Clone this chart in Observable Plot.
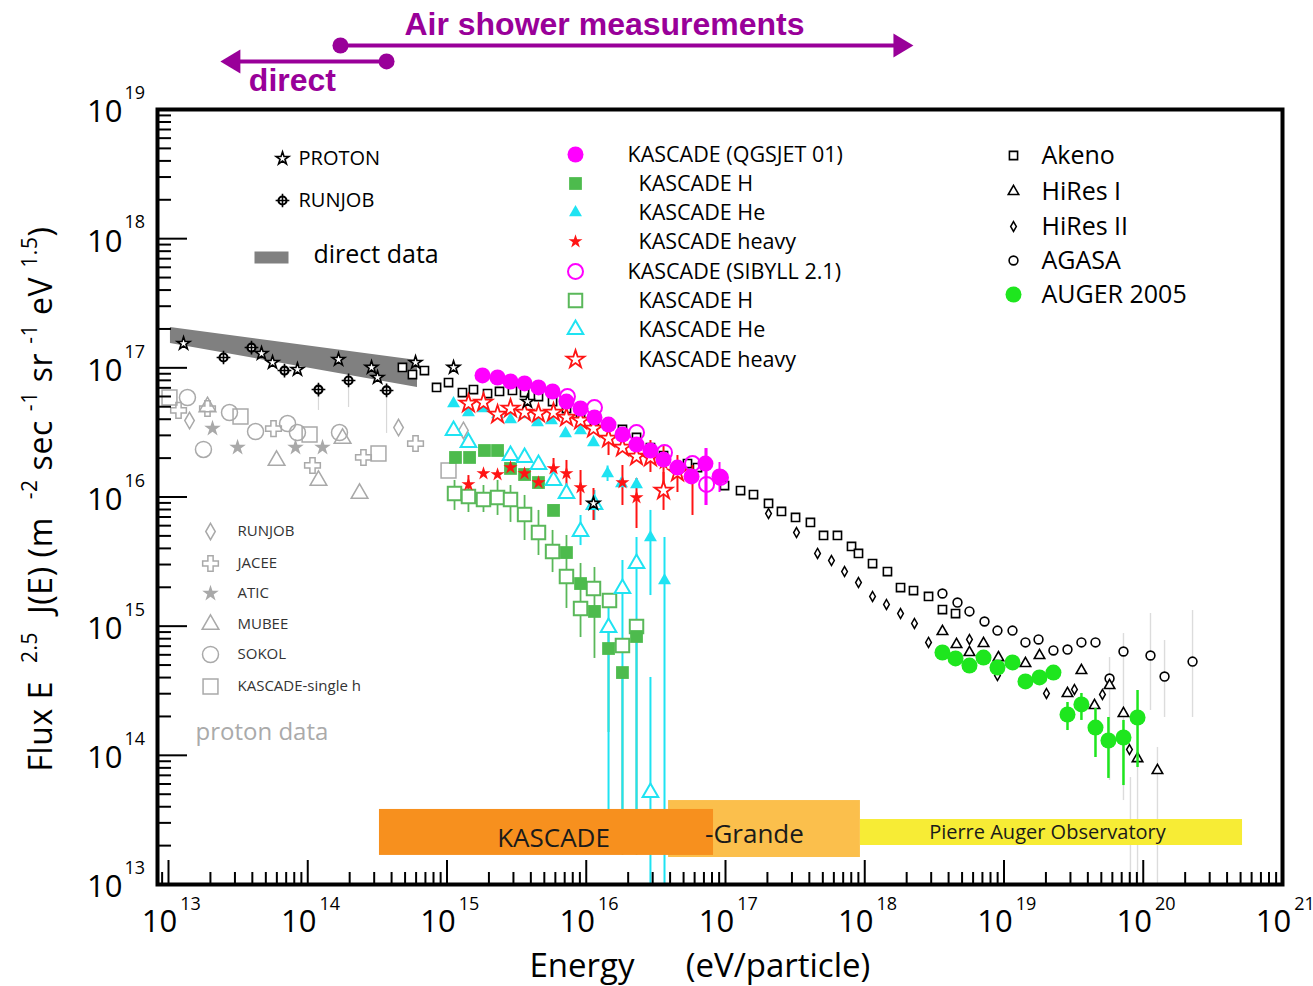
<!DOCTYPE html>
<html><head><meta charset="utf-8">
<script src="https://cdn.jsdelivr.net/npm/d3@7"></script>
<script src="https://cdn.jsdelivr.net/npm/@observablehq/plot@0.6"></script>
<style>
html,body{margin:0;padding:0;background:#fff;}
svg{display:block;}
</style></head><body>
<script>
// ---- DATA: every value is [log10(E / eV), log10(flux)] (error bars: [log10 E, log10 low, log10 high]) ----
const protonStars = [[13.108,17.188],[13.668,17.111],[13.747,17.041],[13.926,16.987],[14.221,17.064],[14.458,17.003],[14.501,16.925],[14.774,17.041],[15.047,17.003],[15.578,16.739],[16.052,15.950]];
const runjobDirect = [[13.395,17.080],[13.596,17.157],[13.833,16.979],[14.077,16.832],[14.293,16.902],[14.566,16.825]];
const runjobDirectErr = [[14.077,16.670,16.832],[14.293,16.693,16.902],[14.566,16.492,16.825]];
const directBand = [[13.014,17.188,17.312],[14.788,16.848,17.057]]; // [logE, low edge, high edge]

const akeno = [[14.680,17.003],[14.752,16.948],[14.838,16.979],[14.925,16.848],[15.011,16.886],[15.111,16.809],[15.190,16.832],[15.291,16.801],[15.377,16.817],[15.470,16.825],[15.557,16.809],[15.657,16.778],[15.758,16.739],[15.858,16.685],[15.959,16.646],[16.059,16.592],[16.160,16.554],[16.260,16.523],[16.361,16.461],[16.461,16.383],[16.555,16.321],[16.727,16.259],[16.799,16.228],[16.993,16.089],[17.108,16.050],[17.201,16.019],[17.309,15.950],[17.402,15.888],[17.503,15.842],[17.610,15.803],[17.704,15.702],[17.804,15.702],[17.905,15.617],[17.955,15.563],[18.056,15.485],[18.163,15.423],[18.257,15.299],[18.350,15.276],[18.458,15.230],[18.558,15.129],[18.652,15.098]];
const hiresII = [[17.309,15.872],[17.510,15.725],[17.661,15.563],[17.761,15.508],[17.855,15.423],[17.955,15.338],[18.056,15.230],[18.156,15.168],[18.257,15.098],[18.357,15.021],[18.458,14.874],[18.752,14.897],[18.953,14.618],[19.305,14.479],[19.506,14.510],[19.707,14.471],[19.901,14.045]];
const agasa = [[18.558,15.253],[18.666,15.183],[18.752,15.114],[18.860,15.036],[18.953,14.966],[19.061,14.966],[19.154,14.874],[19.248,14.897],[19.355,14.812],[19.456,14.819],[19.556,14.874],[19.657,14.874],[19.758,14.595],[19.858,14.804],[20.052,14.773],[20.153,14.610],[20.354,14.726]];
const hiresI = [[18.558,14.959],[18.659,14.858],[18.752,14.796],[18.853,14.866],[18.960,14.757],[19.154,14.711],[19.255,14.773],[19.556,14.657],[19.456,14.479],[19.758,14.541],[19.650,14.386],[19.858,14.324],[19.959,13.975],[20.102,13.883]];
const highEnergyErr = [[19.758,13.805,14.757],[19.858,13.650,14.943],[19.908,13.0,13.828],[19.959,13.0,13.906],[20.052,14.347,15.098],[20.102,13.0,14.061],[20.153,14.293,14.889],[20.354,14.293,15.121]];
const auger = [[18.558,14.796],[18.652,14.750],[18.752,14.695],[18.853,14.757],[18.953,14.680],[19.061,14.719],[19.154,14.572],[19.255,14.603],[19.355,14.641],[19.456,14.316],[19.556,14.394],[19.657,14.215],[19.750,14.115],[19.858,14.138],[19.959,14.293]];
const augerErr = [[19.456,14.192,14.409],[19.556,14.270,14.479],[19.657,13.983,14.363],[19.750,13.821,14.293],[19.858,13.766,14.270],[19.959,13.906,14.502]];

// KASCADE, QGSJET 01
const kqAll = [[15.255,16.941],[15.363,16.925],[15.456,16.894],[15.557,16.879],[15.657,16.848],[15.758,16.817],[15.858,16.739],[15.959,16.685],[16.059,16.616],[16.160,16.561],[16.260,16.484],[16.361,16.406],[16.461,16.360],[16.555,16.290],[16.655,16.228],[16.756,16.159],[16.856,16.259],[16.957,16.159]];
const kqH = [[15.061,16.306],[15.162,16.306],[15.269,16.360],[15.363,16.360],[15.456,16.221],[15.557,16.174],[15.657,16.112],[15.765,15.896],[15.858,15.570],[15.959,15.330],[16.059,15.114],[16.160,14.827],[16.260,14.641],[16.361,14.920]];
const kqHe = [[15.047,16.724],[15.154,16.654],[15.262,16.685],[15.363,16.639],[15.456,16.600],[15.557,16.639],[15.650,16.577],[15.750,16.592],[15.851,16.492],[15.959,16.515],[16.052,16.422],[16.153,16.182],[16.253,16.105],[16.361,16.097],[16.461,15.686],[16.562,15.354]];
const kqHeavy = [[15.154,16.097],[15.262,16.182],[15.363,16.174],[15.456,16.228],[15.557,16.182],[15.657,16.112],[15.765,16.221],[15.858,16.182],[15.959,16.074],[16.052,15.950],[16.160,16.461],[16.260,16.112],[16.361,15.996],[16.461,16.321],[16.555,16.259],[16.655,16.182],[16.763,16.159]];
// KASCADE, SIBYLL 2.1
const ksAll = [[15.865,16.778],[16.059,16.693],[16.361,16.499],[16.562,16.345],[16.763,16.259],[16.864,16.097],[16.964,16.151]];
const ksH = [[15.054,16.027],[15.154,16.004],[15.262,15.981],[15.363,15.996],[15.456,15.981],[15.557,15.865],[15.657,15.725],[15.758,15.578],[15.858,15.385],[15.959,15.137],[16.052,15.292],[16.167,15.199],[16.260,14.850],[16.361,14.997]];
const ksHe = [[15.047,16.515],[15.154,16.422],[15.456,16.321],[15.557,16.306],[15.657,16.252],[15.765,16.128],[15.858,16.027],[15.959,15.733],[16.059,15.942],[16.160,14.990],[16.260,15.292],[16.361,15.485],[16.461,13.712]];
const ksHeavy = [[15.154,16.724],[15.262,16.732],[15.363,16.639],[15.456,16.685],[15.557,16.654],[15.657,16.646],[15.765,16.654],[15.858,16.616],[15.959,16.592],[16.052,16.530],[16.160,16.453],[16.260,16.383],[16.361,16.314],[16.461,16.306],[16.555,16.050],[16.655,16.190]];
const allErr = [[16.856,15.934,16.375],[16.957,16.035,16.267],[16.864,15.934,16.375]];
const hErr = [[15.054,15.896,16.128],[15.154,15.880,16.112],[15.262,15.880,16.089],[15.363,15.857,16.128],[15.456,15.803,16.089],[15.557,15.663,16.012],[15.657,15.547,15.896],[15.758,15.415,15.741],[15.858,15.137,15.702],[15.959,14.912,15.485],[16.059,14.750,15.454],[16.160,14.177,15.044],[16.260,13.225,14.641],[16.361,13.225,15.044]];
const heErr = [[15.959,15.624,15.857],[16.059,15.818,16.050],[16.153,16.120,16.240],[16.461,15.237,15.896],[16.562,13.0,15.686],[16.160,13.25,15.199],[16.260,13.25,15.508],[16.361,13.25,15.686],[16.461,13.0,14.603]];
const heavyErr = [[15.154,16.012,16.166],[15.765,16.128,16.298],[15.858,16.066,16.283],[15.959,15.934,16.205],[16.052,15.818,16.066],[16.160,16.321,16.592],[16.260,15.934,16.244],[16.361,15.756,16.143],[16.461,16.190,16.437],[16.555,16.035,16.399],[16.655,16.035,16.321],[16.763,15.857,16.244],[16.555,15.896,16.190]];

// proton data (grey)
const gRunjob = [[13.151,16.592],[14.652,16.538],[15.118,16.515]];
const gJacee = [[13.072,16.670],[13.280,16.685],[13.754,16.530],[14.034,16.244],[14.400,16.306],[14.774,16.414]];
const gAtic = [[13.316,16.530],[13.496,16.383],[13.912,16.383],[14.106,16.383]];
const gMubee = [[13.280,16.698],[13.776,16.283],[14.077,16.128],[14.250,16.453],[14.372,16.027]];
const gSokol = [[13.136,16.770],[13.251,16.368],[13.438,16.654],[13.625,16.507],[13.855,16.569],[13.926,16.499],[14.228,16.499]];
const gKascadeH = [[13.007,16.770],[13.517,16.623],[14.013,16.484],[14.508,16.337],[15.011,16.205]];

// experiment ranges: [log E from, log E to, log flux low, log flux high]
const rangeNames = ["-Grande", "KASCADE", "Pierre Auger Observatory"];
const ranges = [[16.591,17.969,13.209,13.650],[14.515,16.914,13.225,13.581],[17.969,20.713,13.302,13.503]];
const rangeLabelPos = [[17.208,13.387],[15.765,13.356],[19.312,13.403]];

// top annotations: [log E start, log E end, log flux level]
const annoNames = ["Air shower measurements", "direct"];
const annoArrows = [[14.235,18.249,19.4955],[13.473,14.566,19.372]];
const annoLabels = [[16.131,19.658],[13.890,19.225]];

const kascadeLabels = ["KASCADE (QGSJET 01)","KASCADE H","KASCADE He","KASCADE heavy","KASCADE (SIBYLL 2.1)","KASCADE H","KASCADE He","KASCADE heavy"];
const airLabels = ["Akeno","HiRes I","HiRes II","AGASA","AUGER 2005"];
const protonLabels = ["RUNJOB","JACEE","ATIC","MUBEE","SOKOL","KASCADE-single h"];
const directLabels = ["PROTON","RUNJOB","direct data"];
const xTickExp = [13,14,15,16,17,18,19,20,21];
const yTickExp = [13,14,15,16,17,18,19];

// ---- helpers ----
const P = v => 10 ** v;
const pts = a => a.map(([e,f]) => ({x:P(e), y:P(f)}));
const errs = a => a.map(([e,lo,hi]) => ({x:P(e), y1:P(lo), y2:P(hi)}));

const W = 1313, H = 986, mL = 157, mR = 31, mT = 109, mB = 102;
const plotW = W - mL - mR, plotH = H - mT - mB;
const xDomain = [P(12.921), P(21)];
const yDomain = [P(13), P(19)];

const xMinor = [], yMinor = [];
for (let d = 12; d <= 20; d++) for (let m = 2; m <= 9; m++) { const v = m * 10 ** d; if (v >= xDomain[0] && v <= xDomain[1]) xMinor.push(v); }
for (let d = 13; d <= 18; d++) for (let m = 2; m <= 9; m++) yMinor.push(m * 10 ** d);

const PURPLE = "#990099", MAG = "#ff00ff", GREEN = "#4dbb4d", GREEN2 = "#5ab85a", CYAN = "#1fe3f2", RED = "#ff1414", AUG = "#1ee61e", GREY = "#a9a9a9";

const S = {
  akeno: {symbol:"square", r:4.6, stroke:"#000", strokeWidth:1.6, fill:"#fff"},
  hires1: {symbol:"triangle", r:3.9, stroke:"#000", strokeWidth:1.6, fill:"#fff"},
  hires2: {symbol:"diamond", r:3.0, stroke:"#000", strokeWidth:1.5, fill:"#fff"},
  agasa: {symbol:"circle", r:4.4, stroke:"#000", strokeWidth:1.6, fill:"#fff"},
  auger: {symbol:"circle", r:8, fill:AUG},
  proton: {symbol:"star", r:4.0, stroke:"#000", strokeWidth:1.6, fill:"#fff"},
  qAll: {symbol:"circle", r:8, fill:MAG},
  qH: {symbol:"square", r:7.2, fill:GREEN},
  qHe: {symbol:"triangle", r:4.8, fill:CYAN},
  qHeavy: {symbol:"star", r:4.4, fill:RED},
  sAll: {symbol:"circle", r:7.5, stroke:MAG, strokeWidth:2, fill:"none"},
  sH: {symbol:"square", r:7.6, stroke:GREEN2, strokeWidth:2, fill:"#fff"},
  sHe: {symbol:"triangle", r:5.8, stroke:CYAN, strokeWidth:2, fill:"#fff"},
  sHeavy: {symbol:"star", r:5.6, stroke:RED, strokeWidth:1.8, fill:"#fff"},
  gRunjob: {symbol:"diamond", r:5.0, stroke:GREY, strokeWidth:1.5, fill:"none"},
  gJacee: {symbol:"cross", r:6.6, stroke:GREY, strokeWidth:1.5, fill:"none"},
  gAtic: {symbol:"star", r:5.2, fill:GREY},
  gMubee: {symbol:"triangle", r:6.2, stroke:GREY, strokeWidth:1.5, fill:"none"},
  gSokol: {symbol:"circle", r:8, stroke:GREY, strokeWidth:1.5, fill:"none"},
  gKascadeH: {symbol:"square", r:8.4, stroke:GREY, strokeWidth:1.5, fill:"none"}
};
const runjobRing = {symbol:"circle", r:4.0, stroke:"#000", strokeWidth:2.2, fill:"#fff"};
const runjobPlus = {symbol:"plus", r:4.5, stroke:"#000", strokeWidth:1.6};
const barSymbol = {draw(ctx){ ctx.rect(-17,-6,34,12); }};
const headRight = {draw(ctx){ ctx.moveTo(14,0); ctx.lineTo(-6,-12); ctx.lineTo(-6,12); ctx.closePath(); }};
const headLeft = {draw(ctx){ ctx.moveTo(-14,0); ctx.lineTo(6,-12); ctx.lineTo(6,12); ctx.closePath(); }};

const dots = (a, st) => Plot.dot(pts(a), {x:"x", y:"y", ...st});
const bars = (a, stroke, w=1.6) => Plot.ruleX(errs(a), {x:"x", y1:"y1", y2:"y2", stroke, strokeWidth:w});

// legends (one mark per entry, positioned in the frame)
const legendMarks = [];
const legDot = (st, dx, dy) => legendMarks.push(Plot.dot([0], {frameAnchor:"top-left", dx, dy, ...st}));
const legText = (t, dx, dy, o) => legendMarks.push(Plot.text([t], {frameAnchor:"top-left", dx, dy, text:d=>d, textAnchor:"start", lineAnchor:"middle", ...o}));

// direct legend
legDot(S.proton, 125, 49); legText(directLabels[0], 141, 49, {fontSize:20});
legDot(runjobRing, 125, 91); legDot(runjobPlus, 125, 91); legText(directLabels[1], 141, 91, {fontSize:20});
legDot({symbol:barSymbol, fill:"#808080"}, 114, 148); legText(directLabels[2], 156, 145, {fontSize:25});
// KASCADE legend
const kStyles = [S.qAll, S.qH, S.qHe, S.qHeavy, S.sAll, S.sH, S.sHe, S.sHeavy];
const kRowsDy = [45,74,103,132,162,191,220,250];
kascadeLabels.forEach((t,i) => { legDot(kStyles[i], 418, kRowsDy[i]); legText(t, (i % 4 === 0) ? 470 : 481, kRowsDy[i] + 1, {fontSize:21.5}); });
// air shower legend
const aStyles = [S.akeno, S.hires1, S.hires2, S.agasa, S.auger];
const aRowsDy = [46,82,117,151,185];
airLabels.forEach((t,i) => { legDot(aStyles[i], 856, aRowsDy[i]); legText(t, 884, aRowsDy[i], {fontSize:25}); });
// proton data legend
const gStyles = [S.gRunjob, S.gJacee, S.gAtic, S.gMubee, S.gSokol, S.gKascadeH];
const gRowsDy = [422,454,484,515,545,577];
protonLabels.forEach((t,i) => { legDot(gStyles[i], 53, gRowsDy[i]); legText(t, 80, gRowsDy[i], {fontSize:15, fill:"#333"}); });
legText("proton data", 38, 623, {fontSize:24, fill:"#aaaaaa"});

const rangeColors = ["#fbbf4c", "#f7901e", "#f7ec35"];
const rangeTextSize = [26, 26, 20];

const chart = Plot.plot({
  width: W, height: H,
  marginLeft: mL, marginRight: mR, marginTop: mT, marginBottom: mB,
  x: {type:"log", domain:xDomain, axis:null},
  y: {type:"log", domain:yDomain, axis:null},
  style: {fontFamily:"'Open Sans', sans-serif", background:"#fff", overflow:"visible"},
  marks: [
    // grey proton data
    dots(gKascadeH, S.gKascadeH), dots(gSokol, S.gSokol), dots(gMubee, S.gMubee),
    dots(gJacee, S.gJacee), dots(gRunjob, S.gRunjob), dots(gAtic, S.gAtic),
    // direct data band
    Plot.areaY(directBand, {x:d=>P(d[0]), y1:d=>P(d[1]), y2:d=>P(d[2]), fill:"#808080"}),
    bars(runjobDirectErr, "#d8d8d8", 1.2),
    bars(highEnergyErr, "#dcdcdc", 1.4),
    // air-shower experiments
    dots(akeno, S.akeno), dots(hiresII, S.hires2), dots(agasa, S.agasa), dots(hiresI, S.hires1),
    // KASCADE
    bars(hErr, GREEN2, 1.8), bars(heErr, CYAN, 2), bars(heavyErr, RED, 2), bars(allErr, MAG, 2),
    dots(ksH, S.sH), dots(kqH, S.qH), dots(ksHe, S.sHe), dots(kqHe, S.qHe),
    dots(kqHeavy, S.qHeavy), dots(ksHeavy, S.sHeavy), dots(ksAll, S.sAll), dots(kqAll, S.qAll),
    // AUGER
    bars(augerErr, AUG, 2.5), dots(auger, S.auger),
    // direct measurements
    dots(protonStars, S.proton), dots(runjobDirect, runjobRing), dots(runjobDirect, runjobPlus),
    // experiment ranges
    Plot.rect(ranges, {x1:d=>P(d[0]), x2:d=>P(d[1]), y1:d=>P(d[2]), y2:d=>P(d[3]), fill:(d,i)=>rangeColors[i]}),
    Plot.text(rangeLabelPos, {x:d=>P(d[0]), y:d=>P(d[1]), text:(d,i)=>rangeNames[i], fontSize:(d,i)=>rangeTextSize[i], fill:"#1a1a1a"}),
    // frame and ticks
    Plot.frame({stroke:"#000", strokeWidth:4}),
    Plot.tickX(xMinor, {x:d=>d, insetTop: plotH - 12, stroke:"#000", strokeWidth:2}),
    Plot.tickX(xTickExp.map(P), {x:d=>d, insetTop: plotH - 24, stroke:"#000", strokeWidth:2}),
    Plot.tickY(yMinor, {y:d=>d, insetRight: plotW - 14, stroke:"#000", strokeWidth:2}),
    Plot.tickY(yTickExp.map(P), {y:d=>d, insetRight: plotW - 30, stroke:"#000", strokeWidth:2}),
    Plot.text(xTickExp, {x:d=>P(d), frameAnchor:"bottom", lineAnchor:"middle", text:()=>"10", dx:-9, dy:38, fontSize:31}),
    Plot.text(xTickExp, {x:d=>P(d), frameAnchor:"bottom", lineAnchor:"middle", text:d=>String(d), dx:22, dy:20, fontSize:18}),
    Plot.text(yTickExp, {y:d=>P(d), frameAnchor:"left", text:()=>"10", textAnchor:"end", dx:-35, dy:3, fontSize:31}),
    Plot.text(yTickExp, {y:d=>P(d), frameAnchor:"left", text:d=>String(d), textAnchor:"start", dx:-33, dy:-16, fontSize:18}),
    // legends
    ...legendMarks,
    // annotations
    Plot.link(annoArrows, {x1:d=>P(d[0]), x2:d=>P(d[1]), y1:d=>P(d[2]), y2:d=>P(d[2]), stroke:PURPLE, strokeWidth:4}),
    Plot.dot(annoArrows, {x:(d,i)=>P(i===0 ? d[0] : d[1]), y:d=>P(d[2]), r:8, fill:PURPLE}),
    Plot.dot([annoArrows[0]], {x:d=>P(d[1]), y:d=>P(d[2]), symbol:headRight, fill:PURPLE}),
    Plot.dot([annoArrows[1]], {x:d=>P(d[0]), y:d=>P(d[2]), symbol:headLeft, fill:PURPLE}),
    Plot.text(annoLabels, {x:d=>P(d[0]), y:d=>P(d[1]), text:(d,i)=>annoNames[i], fill:PURPLE, fontWeight:"bold", fontSize:32, fontFamily:"'Liberation Sans', Arial, sans-serif"})
  ]
});

// axis titles (with superscripts)
const svg = d3.select(chart);
const yt = svg.append("text")
  .attr("transform", "translate(52,499) rotate(-90)")
  .attr("text-anchor", "middle")
  .style("white-space", "pre")
  .attr("letter-spacing", 0.6)
  .attr("font-family", "'Open Sans', sans-serif")
  .attr("font-size", 32)
  .attr("fill", "#000");
const parts = [["Flux E  ",0],["2.5",1],["  J(E) (m  ",0],["-2",1],[" sec ",0],["-1",1],[" sr ",0],["-1",1],[" eV ",0],["1.5",1],[")",0]];
let up = false;
parts.forEach(([t,s]) => {
  const ts = yt.append("tspan").text(t);
  if (s && !up) { ts.attr("dy", -15).attr("font-size", 21); up = true; }
  else if (s) { ts.attr("font-size", 21); }
  else if (up) { ts.attr("dy", 15); up = false; }
});
svg.append("text").attr("x", 582).attr("y", 977).attr("text-anchor","middle")
  .attr("font-family","'Open Sans', sans-serif").attr("font-size", 33).text("Energy");
svg.append("text").attr("x", 778).attr("y", 977).attr("text-anchor","middle")
  .attr("font-family","'Open Sans', sans-serif").attr("font-size", 33).text("(eV/particle)");

document.body.appendChild(chart);
</script>
</body></html>
